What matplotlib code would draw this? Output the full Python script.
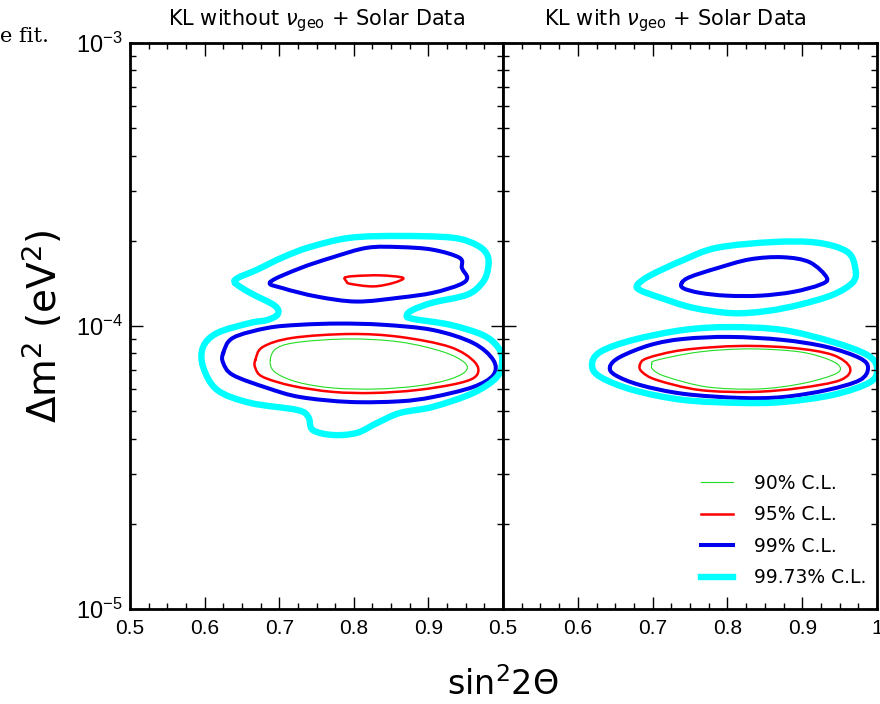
import numpy as np
import matplotlib
matplotlib.use("Agg")
import matplotlib.pyplot as plt
from matplotlib.path import Path
from matplotlib.patches import PathPatch
from matplotlib.lines import Line2D
from matplotlib.ticker import LogLocator, MultipleLocator, FixedLocator, NullFormatter, FixedFormatter

# ---------------- data (x = sin^2 2theta, y = dm^2 in units of 1e-5 eV^2) -------------
# Left panel: KL without nu_geo + Solar
L_cyan_x = [0.641, 0.645, 0.670, 0.705, 0.741, 0.795, 0.862, 0.933, 0.965, 0.979, 0.980,
            0.973, 0.952, 0.906, 0.879, 0.871, 0.879, 0.929, 0.973, 0.993, 0.999, 0.992,
            0.960, 0.906, 0.862, 0.831, 0.804, 0.772, 0.745, 0.739, 0.724, 0.661, 0.617,
            0.598, 0.598, 0.617, 0.661, 0.684, 0.698, 0.694, 0.661]
L_cyan_y = [14.2, 14.8, 15.8, 17.5, 19.0, 20.5, 20.8, 20.5, 19.3, 17.8, 16.0,
            14.3, 12.9, 12.1, 11.4, 10.9, 10.6, 10.1, 9.29, 8.43, 7.58, 6.61,
            5.80, 5.18, 4.93, 4.54, 4.19, 4.12, 4.29, 4.77, 5.05, 5.35, 5.94,
            7.17, 8.43, 9.45, 10.25, 10.5, 11.0, 11.8, 13.1]

L_blue_up_x = [0.688, 0.728, 0.772, 0.818, 0.862, 0.906, 0.942, 0.945, 0.952, 0.942,
               0.906, 0.862, 0.804, 0.751, 0.705]
L_blue_up_y = [14.3, 16.0, 17.5, 18.9, 19.0, 18.6, 17.4, 16.0, 14.8, 14.0,
               13.1, 12.6, 12.2, 12.7, 13.6]

L_red_up_x = [0.788, 0.799, 0.835, 0.866, 0.853, 0.826, 0.795, 0.790]
L_red_up_y = [14.8, 15.0, 15.1, 14.8, 14.2, 13.8, 14.1, 14.4]

L_blue_lo_x = [0.625, 0.638, 0.684, 0.728, 0.781, 0.839, 0.906, 0.960, 0.987, 0.987,
               0.960, 0.906, 0.862, 0.795, 0.728, 0.684, 0.638, 0.625]
L_blue_lo_y = [8.03, 9.08, 9.84, 10.1, 10.2, 10.1, 9.68, 8.71, 7.58, 6.71,
               6.09, 5.61, 5.42, 5.39, 5.61, 6.04, 6.71, 7.40]

L_red_lo_x = [0.668, 0.678, 0.718, 0.795, 0.862, 0.929, 0.962, 0.965, 0.942, 0.885,
              0.826, 0.772, 0.718, 0.678, 0.668]
L_red_lo_y = [7.58, 8.43, 9.08, 9.37, 9.15, 8.43, 7.46, 6.71, 6.29, 5.94,
              5.80, 5.85, 6.14, 6.61, 7.11]

L_green_x = [0.688, 0.697, 0.728, 0.795, 0.862, 0.920, 0.949, 0.949, 0.925, 0.885,
             0.831, 0.772, 0.724, 0.694]
L_green_y = [7.58, 8.36, 8.78, 9.00, 8.78, 8.10, 7.40, 6.88, 6.44, 6.14,
             5.99, 6.04, 6.34, 6.88]

# Right panel: KL with nu_geo + Solar
R_cyan_up_x = [0.680, 0.697, 0.741, 0.786, 0.861, 0.920, 0.960, 0.971, 0.968, 0.941,
               0.897, 0.853, 0.807, 0.754, 0.710, 0.683]
R_cyan_up_y = [14.0, 15.1, 17.1, 18.9, 19.8, 19.7, 18.3, 16.0, 14.3, 12.9,
               11.9, 11.3, 11.1, 11.6, 12.6, 13.4]

R_blue_up_x = [0.739, 0.750, 0.786, 0.830, 0.874, 0.910, 0.933, 0.924, 0.888, 0.844,
               0.799, 0.763, 0.741]
R_blue_up_y = [14.2, 14.9, 16.0, 17.2, 17.5, 16.8, 14.8, 14.0, 13.2, 12.8,
               12.8, 13.1, 13.6]

R_cyan_lo_x = [0.619, 0.630, 0.674, 0.741, 0.803, 0.874, 0.941, 0.987, 1.000, 0.991,
               0.941, 0.874, 0.817, 0.741, 0.674, 0.630]
R_cyan_lo_y = [7.28, 8.10, 8.93, 9.68, 9.91, 9.68, 8.78, 7.90, 7.12, 6.34,
               5.71, 5.39, 5.35, 5.48, 5.94, 6.61]

R_blue_lo_x = [0.643, 0.656, 0.697, 0.741, 0.803, 0.874, 0.933, 0.977, 0.988, 0.977,
               0.933, 0.874, 0.817, 0.741, 0.683, 0.650]
R_blue_lo_y = [7.17, 7.76, 8.57, 9.00, 9.15, 8.93, 8.43, 7.70, 7.11, 6.44,
               5.94, 5.61, 5.57, 5.76, 6.19, 6.71]

R_red_lo_x = [0.683, 0.693, 0.741, 0.817, 0.888, 0.941, 0.964, 0.951, 0.897, 0.834,
              0.763, 0.706, 0.686]
R_red_lo_y = [7.28, 7.70, 8.23, 8.50, 8.36, 7.90, 7.11, 6.44, 6.04, 5.85,
              5.94, 6.44, 6.88]

R_green_x = [0.699, 0.706, 0.763, 0.830, 0.897, 0.937, 0.951, 0.941, 0.897, 0.840,
             0.773, 0.719, 0.701]
R_green_y = [7.34, 7.58, 8.10, 8.30, 8.10, 7.58, 7.11, 6.71, 6.24, 5.99,
             6.09, 6.61, 6.99]

titles = [r"KL without $\nu_{\rm geo}$ + Solar Data", r"KL with $\nu_{\rm geo}$ + Solar Data"]
title_x = [0.5, 0.46]
levels = ["90% C.L.", "95% C.L.", "99% C.L.", "99.73% C.L."]
level_colors = ["#22dd22", "#ff0000", "#0000ee", "#00ffff"]
level_widths = [0.8, 1.8, 2.9, 4.6]
x_ticks_left = [0.5, 0.6, 0.7, 0.8, 0.9]
x_ticks_right = [0.5, 0.6, 0.7, 0.8, 0.9, 1.0]
x_ticklabels_right = ["0.5", "0.6", "0.7", "0.8", "0.9", "1"]

# ---------------- drawing ----------------
plt.rcParams['font.family'] = ['Liberation Sans', 'DejaVu Sans']


def smooth_closed_path(xs, ys):
    x = np.asarray(xs, float)
    ly = np.log10(np.asarray(ys, float) * 1e-5)
    n = len(x)
    pts = np.column_stack([x, ly])
    verts = [pts[0]]
    codes = [Path.MOVETO]
    for i in range(n):
        p0, p1, p2, p3 = pts[i - 1], pts[i], pts[(i + 1) % n], pts[(i + 2) % n]
        c1 = p1 + (p2 - p0) / 6.0
        c2 = p2 - (p3 - p1) / 6.0
        verts += [c1, c2, p2]
        codes += [Path.CURVE4] * 3
    verts = np.array(verts)
    verts[:, 1] = 10 ** verts[:, 1]
    return Path(verts, codes)


def draw(ax, xs, ys, lvl):
    p = PathPatch(smooth_closed_path(xs, ys), fill=False, edgecolor=level_colors[lvl],
                  lw=level_widths[lvl], joinstyle='round', capstyle='round')
    ax.add_patch(p)


fig = plt.figure(figsize=(8.8, 7.04), dpi=100)
ax1 = fig.add_axes([130 / 880, 1 - 609 / 704, 373 / 880, 566 / 704])
ax2 = fig.add_axes([503 / 880, 1 - 609 / 704, 374 / 880, 566 / 704])

draw(ax1, L_green_x, L_green_y, 0)
draw(ax1, L_red_lo_x, L_red_lo_y, 1)
draw(ax1, L_red_up_x, L_red_up_y, 1)
draw(ax1, L_blue_lo_x, L_blue_lo_y, 2)
draw(ax1, L_blue_up_x, L_blue_up_y, 2)
draw(ax1, L_cyan_x, L_cyan_y, 3)

draw(ax2, R_green_x, R_green_y, 0)
draw(ax2, R_red_lo_x, R_red_lo_y, 1)
draw(ax2, R_blue_lo_x, R_blue_lo_y, 2)
draw(ax2, R_blue_up_x, R_blue_up_y, 2)
draw(ax2, R_cyan_lo_x, R_cyan_lo_y, 3)
draw(ax2, R_cyan_up_x, R_cyan_up_y, 3)

for i, ax in enumerate([ax1, ax2]):
    ax.set_yscale('log')
    ax.set_xlim(0.5, 1.0)
    ax.set_ylim(1e-5, 1e-3)
    for s in ax.spines.values():
        s.set_linewidth(2.0)
    ax.xaxis.set_minor_locator(MultipleLocator(0.025))
    ax.yaxis.set_major_locator(LogLocator(base=10, numticks=5))
    ax.yaxis.set_minor_locator(LogLocator(base=10, subs=np.arange(2, 10), numticks=20))
    ax.yaxis.set_minor_formatter(NullFormatter())
    ax.tick_params(which='both', direction='in', top=True, right=True, width=1.0)
    ax.tick_params(which='major', length=9, pad=7)
    ax.tick_params(axis='x', which='major', labelsize=15)
    ax.tick_params(axis='y', which='major', labelsize=17, pad=5)
    ax.tick_params(which='minor', length=4.5)
    t = ax.set_title(titles[i], fontsize=15, family='DejaVu Sans', pad=13)
    t.set_x(title_x[i])

ax1.xaxis.set_major_locator(FixedLocator(x_ticks_left))
ax1.xaxis.set_major_formatter(FixedFormatter([f"{v:.1f}" for v in x_ticks_left]))
ax2.xaxis.set_major_locator(FixedLocator(x_ticks_right))
ax2.xaxis.set_major_formatter(FixedFormatter(x_ticklabels_right))
ax2.tick_params(axis='y', which='both', labelleft=False)

ax1.set_ylabel(r"$\Delta$m$^2$ (eV$^2$)", fontsize=28, family='DejaVu Sans', labelpad=8)
fig.text(503 / 880, 1 - 685 / 704, r"sin$^2$2$\Theta$", fontsize=24, family='DejaVu Sans',
         ha='center', va='center')

handles = [Line2D([], [], color=c, lw=w) for c, w in zip(level_colors, level_widths)]
ax2.legend(handles, levels, loc='upper left', bbox_to_anchor=(0.505, 0.255), frameon=False,
           borderpad=0, handlelength=1.7, handletextpad=1.1, labelspacing=0.66,
           prop={'family': 'DejaVu Sans', 'size': 13.5})

fig.text(0.0, 1 - 36 / 704, "e fit.", fontsize=15, family='DejaVu Serif', va='center')

fig.savefig("out.png", dpi=100)
